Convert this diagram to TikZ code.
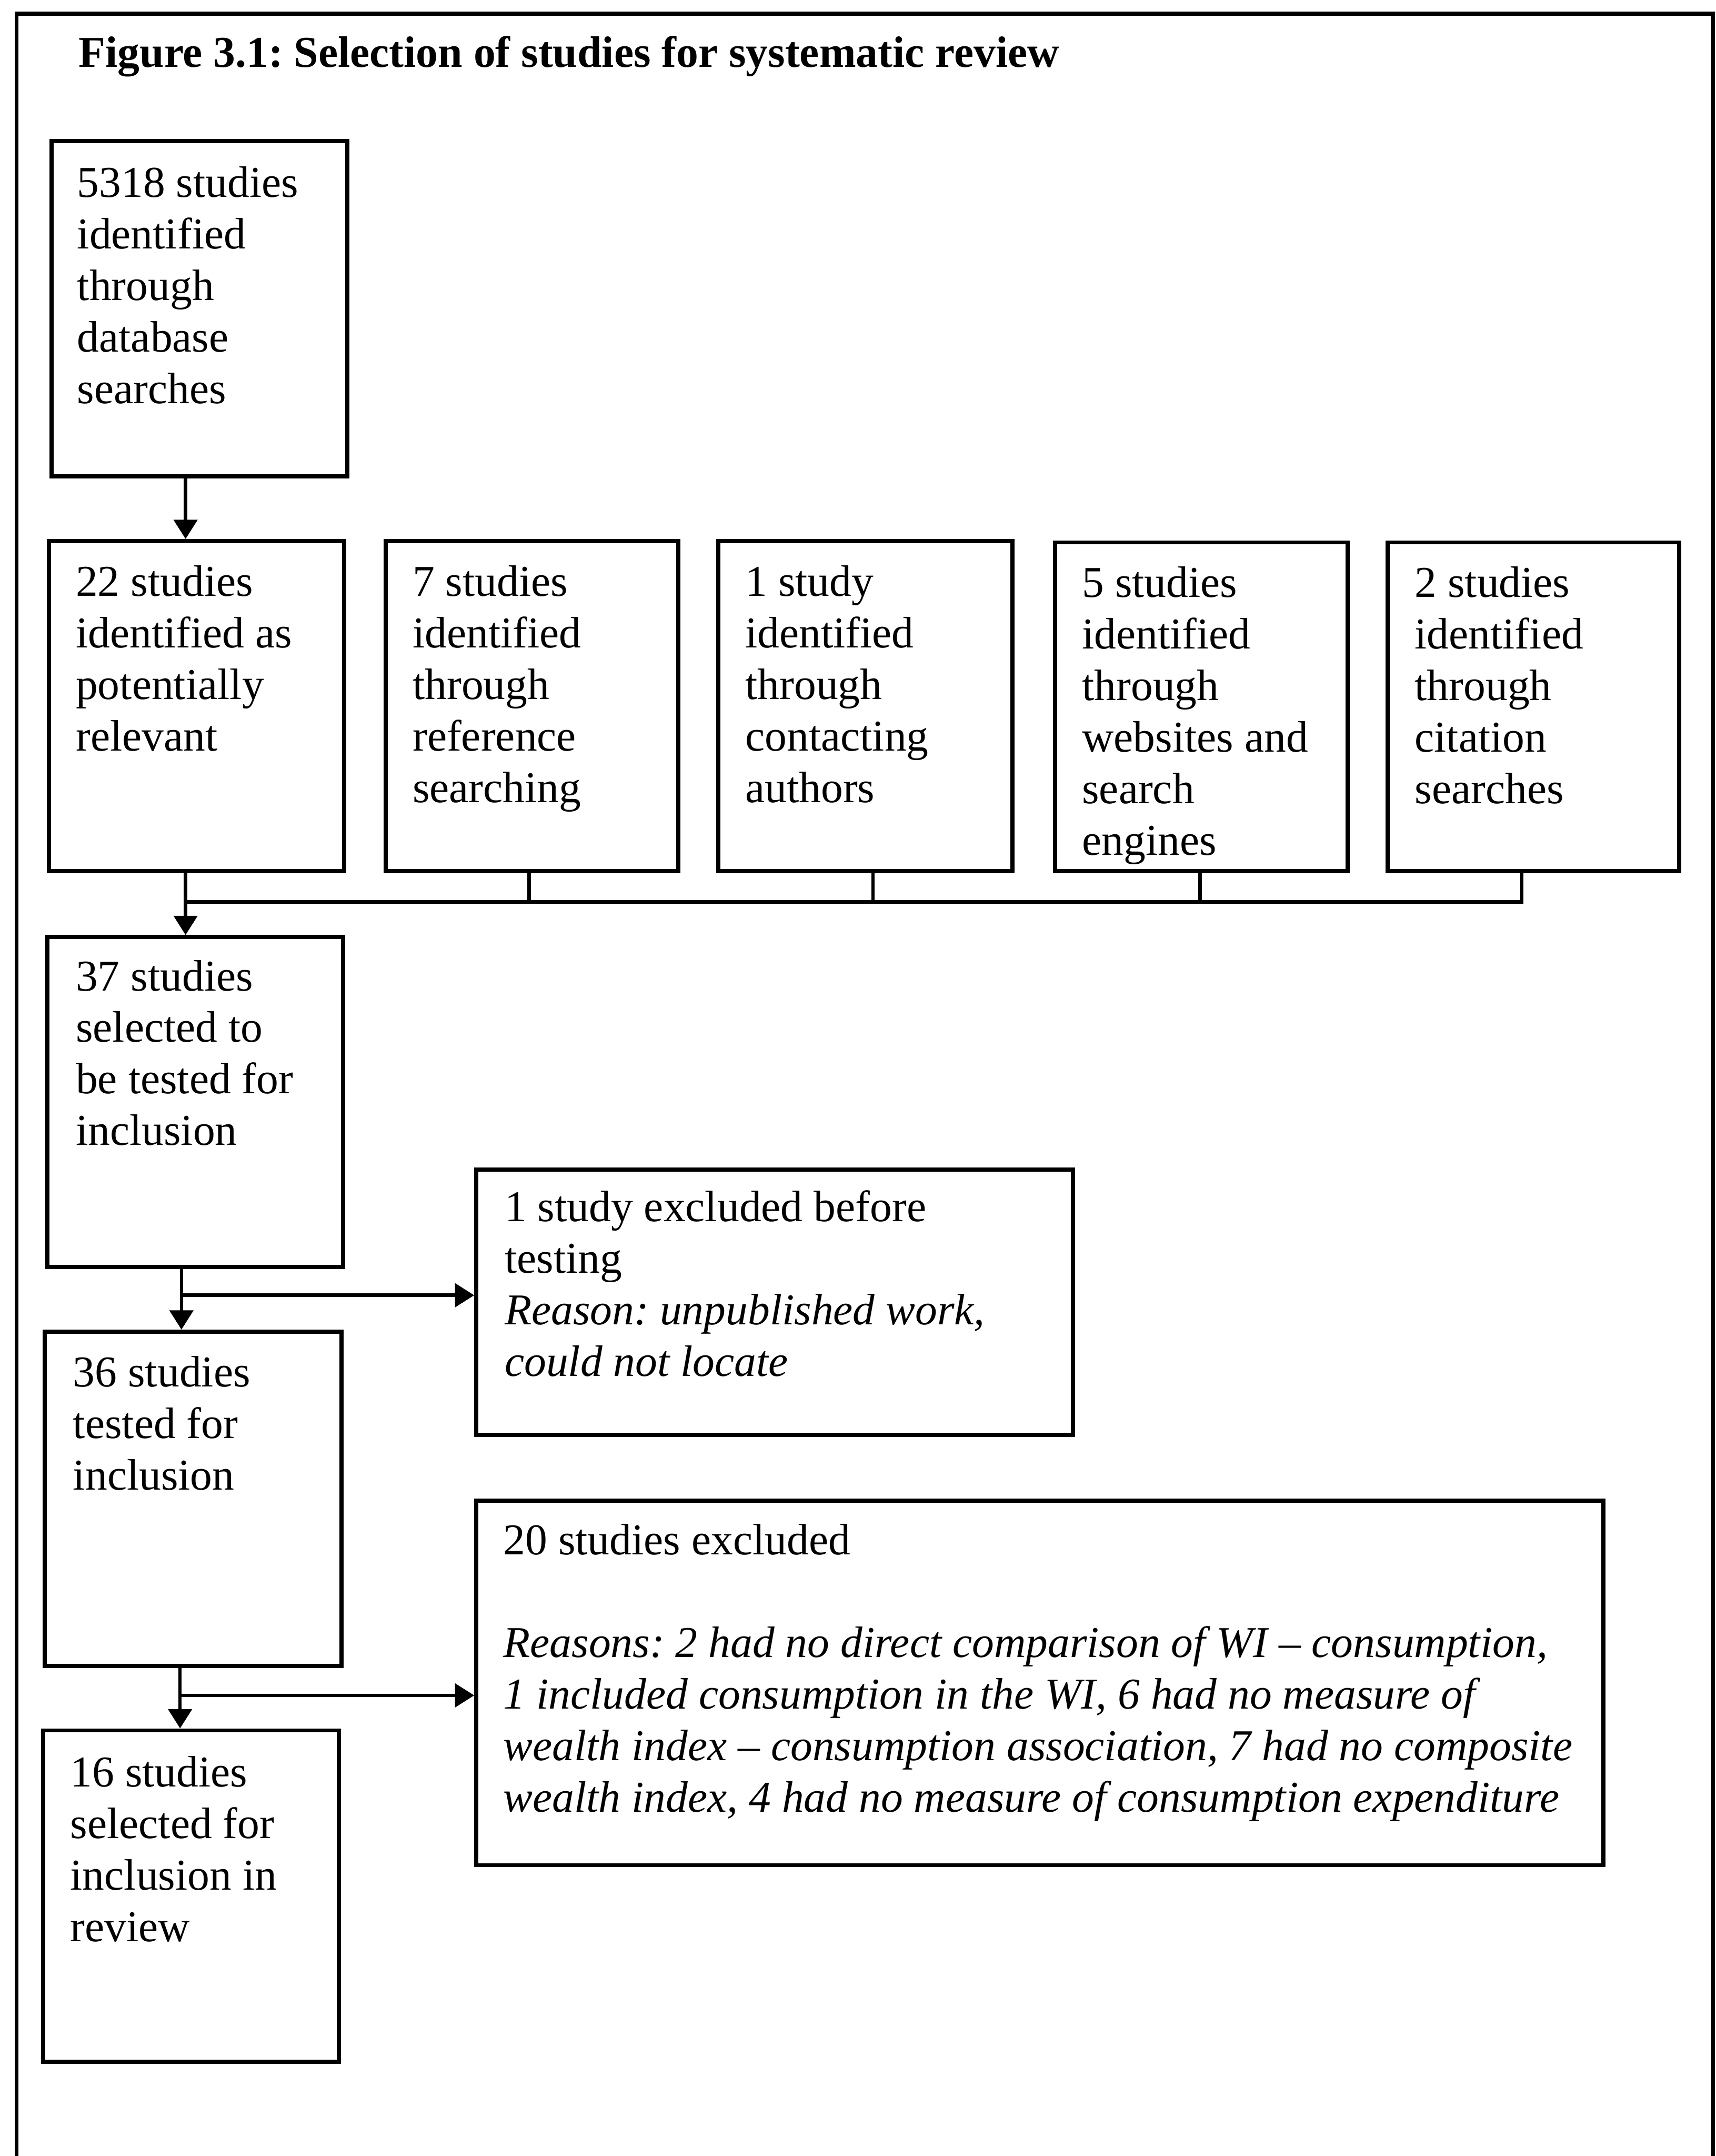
\documentclass[tikz,border=0pt]{standalone}
\usepackage{fontspec}
\setmainfont{Liberation Serif}
\usetikzlibrary{arrows.meta}
\frenchspacing
\begin{document}
\begin{tikzpicture}[x=1pt,y=-1pt,
  boxst/.style={draw, line width=3pt, inner sep=0pt, anchor=north west},
  txt/.style={inner sep=0pt, anchor=north west, align=left, font=\fontsize{32}{37.5}\selectfont},
  conn/.style={line width=2.5pt},
  arr/.style={line width=2.5pt, -{Triangle[length=14pt,width=17pt]}}]
\useasboundingbox (0,0) rectangle (1248,1568);
% outer frame (bottom edge runs off the page)
\draw[line width=2.8pt] (12,1600) -- (12,10) -- (1246,10) -- (1246,1600);

\node[txt, font=\bfseries\fontsize{32}{37.5}\selectfont] (title) at (57,22.5) {\strut Figure 3.1: Selection of studies for systematic review};

% boxes
\node[boxst, minimum width=215pt, minimum height=244pt] (a) at (36,101) {};
\node[boxst, minimum width=215pt, minimum height=240pt] (b) at (34,392) {};
\node[boxst, minimum width=213pt, minimum height=240pt] (c) at (279,392) {};
\node[boxst, minimum width=214pt, minimum height=240pt] (d) at (521,392) {};
\node[boxst, minimum width=213pt, minimum height=239pt] (e) at (766,393) {};
\node[boxst, minimum width=212pt, minimum height=239pt] (f) at (1008,393) {};
\node[boxst, minimum width=215pt, minimum height=240pt] (g) at (33,680) {};
\node[boxst, minimum width=434pt, minimum height=193pt] (x1) at (345,849) {};
\node[boxst, minimum width=216pt, minimum height=243pt] (h) at (31,967) {};
\node[boxst, minimum width=820pt, minimum height=265pt] (x2) at (345,1090) {};
\node[boxst, minimum width=215pt, minimum height=241pt] (i) at (30,1257) {};

% texts
\node[txt] (at) at (56,117) {\strut 5318 studies\\identified\\through\\database\\searches};
\node[txt] (bt) at (55,407) {\strut 22 studies\\identified as\\potentially\\relevant};
\node[txt] (ct) at (300,407) {\strut 7 studies\\identified\\through\\reference\\searching};
\node[txt] (dt) at (542,407) {\strut 1 study\\identified\\through\\contacting\\authors};
\node[txt] (et) at (787,408) {\strut 5 studies\\identified\\through\\websites and\\search\\engines};
\node[txt] (ft) at (1029,408) {\strut 2 studies\\identified\\through\\citation\\searches};
\node[txt] (gt) at (55,694) {\strut 37 studies\\selected to\\be tested for\\inclusion};
\node[txt] (x1t) at (367,862) {\strut 1 study excluded before\\testing\\\textit{Reason: unpublished work,}\\\textit{could not locate}};
\node[txt] (ht) at (53,982) {\strut 36 studies\\tested for\\inclusion};
\node[txt] (x2t) at (366,1104) {\strut 20 studies excluded\\ \strut\\
  \textit{Reasons: 2 had no direct comparison of WI -- consumption,}\\
  \textit{1 included consumption in the WI, 6 had no measure of}\\
  \textit{wealth index -- consumption association, 7 had no composite}\\
  \textit{wealth index, 4 had no measure of consumption expenditure}};
\node[txt] (it) at (51,1273) {\strut 16 studies\\selected for\\inclusion in\\review};

% connectors
\draw[arr] (a.south -| 135,0) -- (b.north -| 135,0);
\coordinate (bus) at (135,656);
\draw[arr] (b.south -| 135,0) -- (g.north -| 135,0);
\draw[conn] (f.south -| 1107,0) |- (bus);
\draw[conn] (c.south -| 385,0) -- (bus -| 385,0);
\draw[conn] (d.south -| 635,0) -- (bus -| 635,0);
\draw[conn] (e.south -| 873,0) -- (bus -| 873,0);

\coordinate (br1) at (132,942);
\draw[arr] (g.south -| 132,0) -- (h.north -| 132,0);
\draw[arr] (br1) -- (x1.west |- br1);

\coordinate (br2) at (131,1233);
\draw[arr] (h.south -| 131,0) -- (i.north -| 131,0);
\draw[arr] (br2) -- (x2.west |- br2);
\end{tikzpicture}
\end{document}
